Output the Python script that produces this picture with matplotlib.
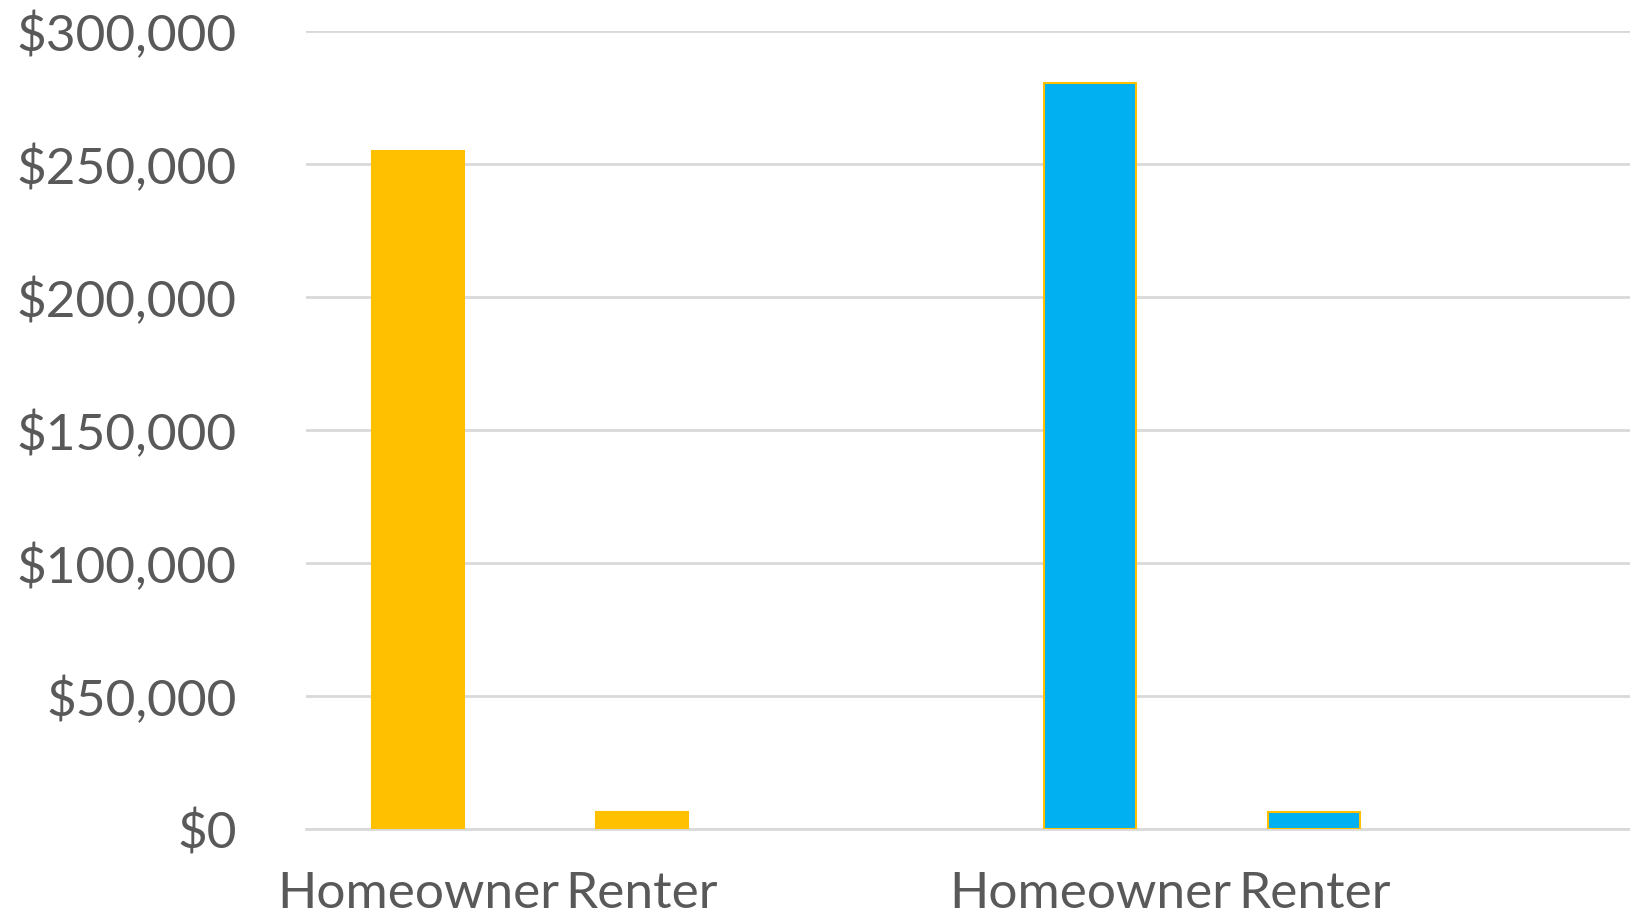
import numpy as np
import matplotlib
matplotlib.use('Agg')
import matplotlib.pyplot as plt
from matplotlib.ticker import FuncFormatter

# Data
labels = ['Homeowner', 'Renter', 'Homeowner', 'Renter']
positions = [0, 1, 3, 4]
values = [255000, 6500, 280500, 6500]
colors = ['#FFC000', '#FFC000', '#00B0F0', '#00B0F0']
edges = ['#FFC000', '#FFC000', '#FFC000', '#FFC000']

plt.rcParams['font.family'] = ['Lato', 'DejaVu Sans']

fig = plt.figure(figsize=(16.31, 9.18), dpi=100)
ax = fig.add_axes([0.1876, 0.0969, 0.8124, 0.8693])

ax.bar(positions, values, width=0.41, color=colors, edgecolor=edges,
       linewidth=1.5, zorder=3)

ax.set_ylim(0, 300000)
ax.set_xlim(-0.5, 5.415)
ax.set_yticks(np.arange(0, 300001, 50000))
ax.yaxis.set_major_formatter(FuncFormatter(lambda v, p: '${:,.0f}'.format(v)))
ax.set_xticks(positions)
ax.set_xticklabels(labels)

ax.grid(axis='y', color='#D9D9D9', linewidth=2, zorder=0)
for s in ['top', 'right', 'left']:
    ax.spines[s].set_visible(False)
ax.spines['bottom'].set_color('#D9D9D9')
ax.spines['bottom'].set_linewidth(2)

ax.tick_params(axis='both', length=0, labelsize=37, colors='#595959')
ax.tick_params(axis='y', pad=50)
ax.tick_params(axis='x', pad=30)

fig.savefig('out.png', dpi=100)
